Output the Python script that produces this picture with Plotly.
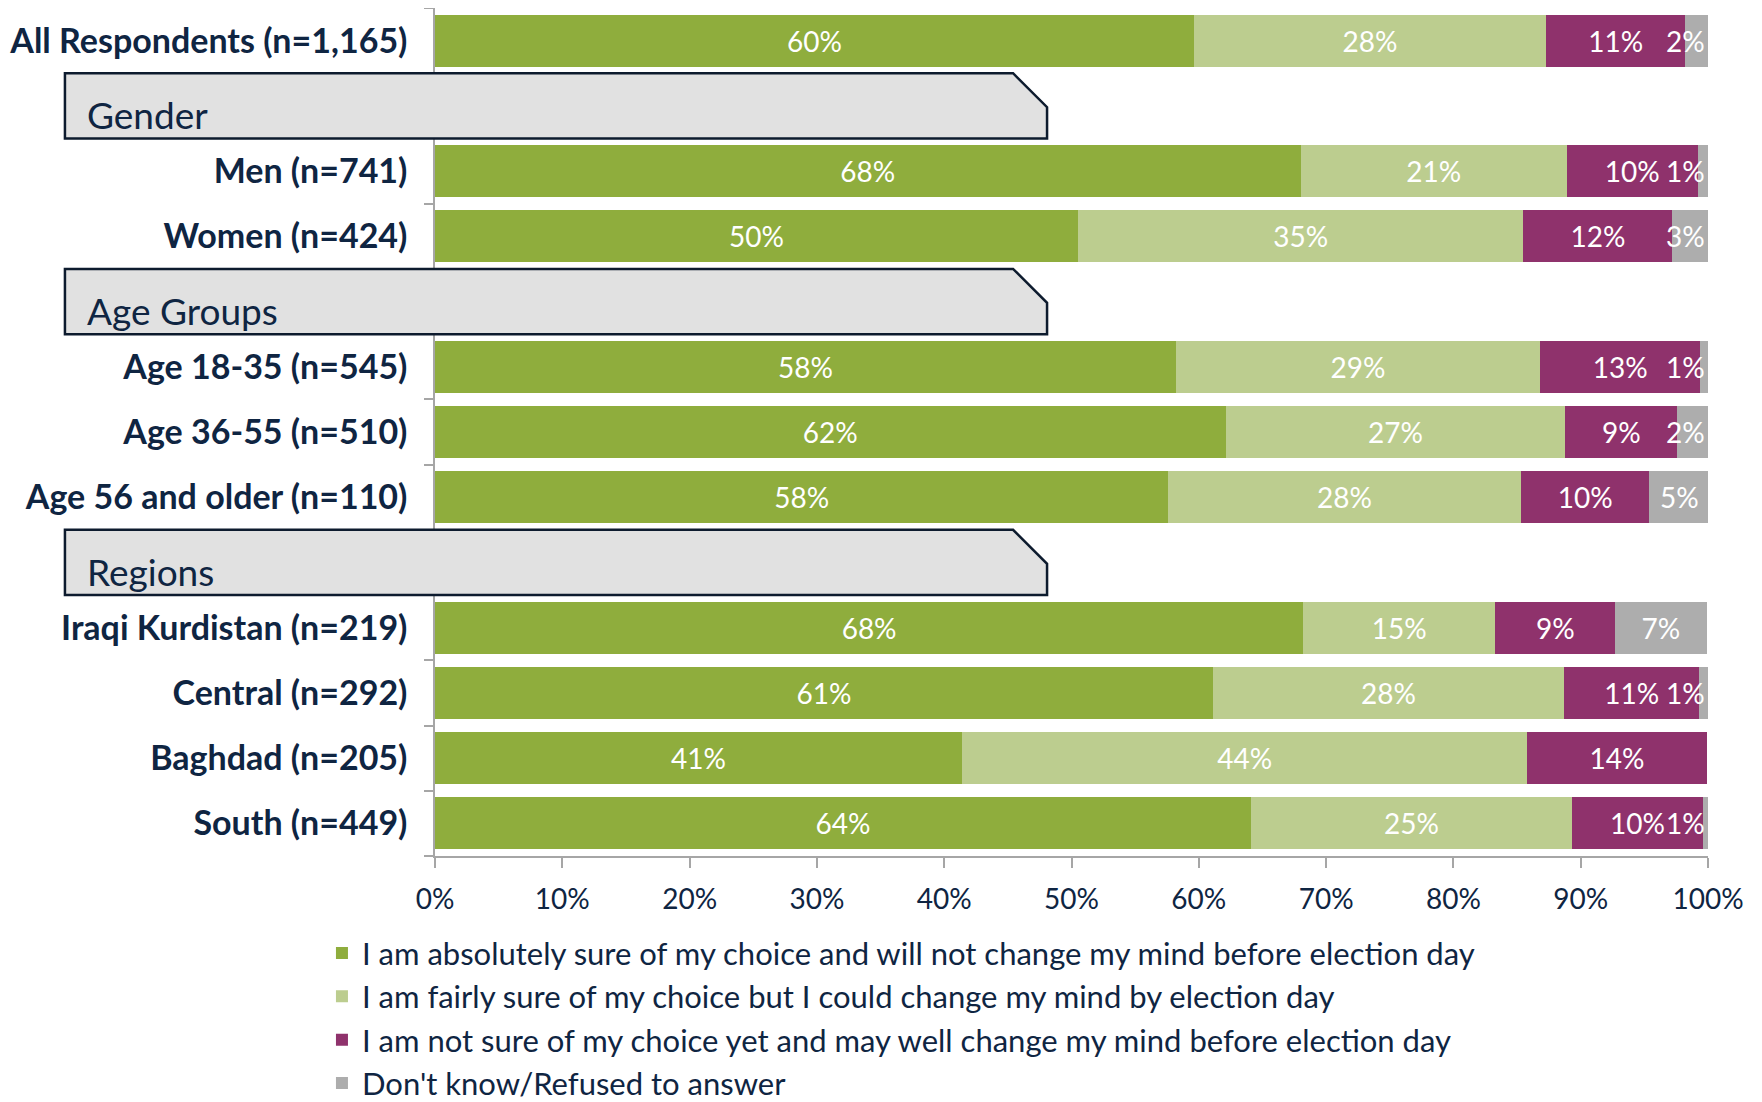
import plotly.graph_objects as go

# ---------------- data ----------------
section_headers = ["Gender", "Age Groups", "Regions"]
overall_label = "All Respondents (n=1,165)"
gender_labels = ["Men (n=741)", "Women (n=424)"]
age_labels = ["Age 18-35 (n=545)", "Age 36-55 (n=510)", "Age 56 and older (n=110)"]
region_labels = ["Iraqi Kurdistan (n=219)", "Central (n=292)", "Baghdad (n=205)", "South (n=449)"]

series_names = [
    "I am absolutely sure of my choice and will not change my mind before election day",
    "I am fairly sure of my choice but I could change my mind by election day",
    "I am not sure of my choice yet and may well change my mind before election day",
    "Don't know/Refused to answer",
]
# values per row, in order: All, Men, Women, 18-35, 36-55, 56+, Kurdistan, Central, Baghdad, South
absolutely_sure = [59.6, 68.0, 50.5, 58.2, 62.1, 57.6, 68.2, 61.1, 41.4, 64.1]
fairly_sure     = [27.7, 20.9, 35.0, 28.6, 26.7, 27.7, 15.1, 27.6, 44.4, 25.2]
not_sure        = [10.9, 10.3, 11.7, 12.6, 8.8, 10.1, 9.4, 10.6, 14.1, 10.3]
dont_know       = [1.8, 0.8, 2.8, 0.8, 2.4, 4.7, 7.2, 0.9, 0.0, 0.6]
x_ticks = [0, 10, 20, 30, 40, 50, 60, 70, 80, 90, 100]
x_tick_labels = ["0%", "10%", "20%", "30%", "40%", "50%", "60%", "70%", "80%", "90%", "100%"]

# ---------------- styles ----------------
colors = ["#8fad3d", "#bccd8f", "#8f326c", "#adadad"]
navy = "#0f2542"
FONT = "Lato"

# ---------------- layout of rows ----------------
groups = [gender_labels, age_labels, region_labels]
bar_rows, bar_labels, header_rows = [0], [overall_label], []
r = 1
for g in groups:
    header_rows.append(r)
    r += 1
    for lab in g:
        bar_rows.append(r)
        bar_labels.append(lab)
        r += 1
n_slots = r
y_lo, y_hi = -0.5, n_slots - 0.5

series = [absolutely_sure, fairly_sure, not_sure, dont_know]

fig = go.Figure()
for i, (name, vals) in enumerate(zip(series_names, series)):
    txt = [f"{round(v)}%" if v >= 4 else "" for v in vals]
    fig.add_trace(go.Bar(
        y=bar_rows, x=vals, orientation="h", name=name,
        marker=dict(color=colors[i], line=dict(width=0)),
        width=0.8, text=txt, textposition="inside", insidetextanchor="middle",
        textangle=0, insidetextfont=dict(color="white", size=28, family=FONT),
        legendgroup=f"g{i}", hoverinfo="skip",
    ))

annotations = []
# small segments: labels anchored at the right end of the bar
for row, v in zip(bar_rows, dont_know):
    if 0 < v < 4:
        annotations.append(dict(
            x=100, y=row, xref="x", yref="y", text=f"{round(v)}%", showarrow=False,
            xanchor="right", yanchor="middle", xshift=-1,
            font=dict(color="white", size=28, family=FONT)))

# section header boxes
shapes = []
box_left, box_right = -0.2907, 0.4808
cx, cy = 0.0267, 0.040
for h, title in zip(header_rows, section_headers):
    top = (y_hi - (h - 0.5)) / (y_hi - y_lo)
    bot = (y_hi - (h + 0.5)) / (y_hi - y_lo)
    path = (f"M {box_left},{bot} L {box_left},{top} L {box_right - cx},{top} "
            f"L {box_right},{top - cy} L {box_right},{bot} Z")
    shapes.append(dict(type="path", xref="paper", yref="paper", path=path,
                       fillcolor="#e1e1e1", line=dict(color="#0d1b2e", width=2.5),
                       layer="above"))
    annotations.append(dict(
        x=-0.2749, y=h, xref="paper", yref="y", text=title, showarrow=False,
        xanchor="left", yanchor="middle", yshift=-9,
        font=dict(color=navy, size=37, family=FONT)))

fig.update_layout(
    width=1762, height=1102,
    margin=dict(l=427, r=62, t=0, b=254, autoexpand=False),
    barmode="stack",
    plot_bgcolor="white", paper_bgcolor="white",
    font=dict(family=FONT, color=navy),
    shapes=shapes, annotations=annotations,
    showlegend=True,
    legend=dict(
        x=-0.0888, y=-0.083, xanchor="left", yanchor="top",
        font=dict(size=31, color=navy, family=FONT),
        tracegroupgap=0, traceorder="normal", bgcolor="rgba(0,0,0,0)",
    ),
)
fig.update_xaxes(
    range=[0, 100], tickmode="array", tickvals=x_ticks, ticktext=x_tick_labels,
    showgrid=False, zeroline=False, showline=True, linecolor="#a6a6a6", linewidth=1.5,
    ticks="outside", ticklen=10, tickcolor="#a6a6a6", tickwidth=1.5,
    tickfont=dict(size=28, color=navy, family=FONT), ticklabelstandoff=8,
)
fig.update_yaxes(
    range=[y_hi, y_lo], tickmode="array", tickvals=bar_rows, ticktext=bar_labels,
    showgrid=False, zeroline=False, showline=True, linecolor="#a6a6a6", linewidth=1.5,
    ticks="", ticklabelstandoff=19,
    minor=dict(tickvals=[k + 0.5 for k in range(-1, n_slots)], ticks="outside",
               ticklen=9, tickcolor="#a6a6a6", tickwidth=1.5, showgrid=False),
    tickfont=dict(size=34, color=navy, family=FONT, weight="bold"),
)

fig.write_html("out.html")
